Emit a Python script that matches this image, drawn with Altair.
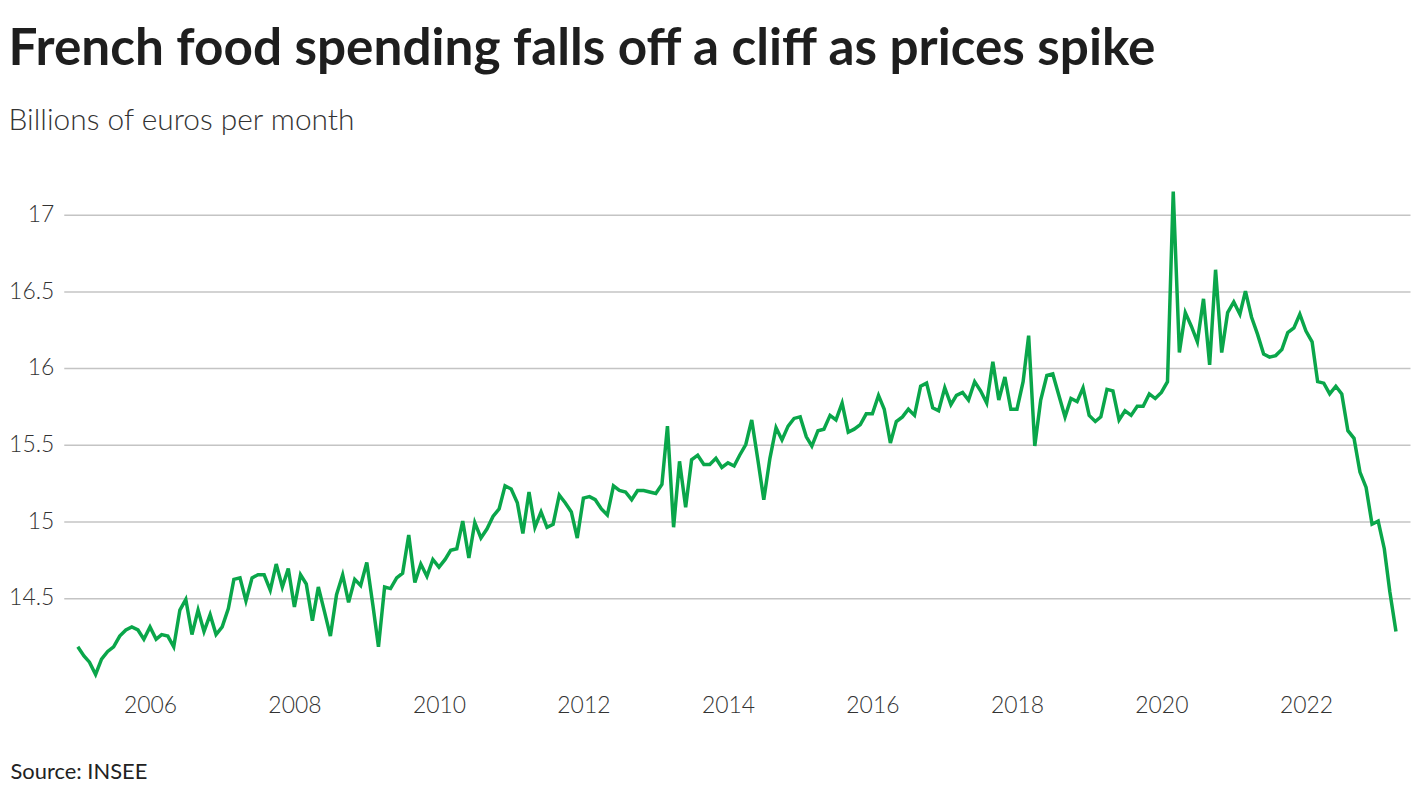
import altair as alt
import pandas as pd

# Monthly French household food consumption, billions of euros (Jan 2005 - Apr 2023)
y2005 = [14.18, 14.12, 14.08, 14.00, 14.10, 14.15, 14.18, 14.25, 14.29, 14.31, 14.29, 14.23]
y2006 = [14.31, 14.23, 14.26, 14.25, 14.18, 14.42, 14.49, 14.26, 14.42, 14.28, 14.39, 14.26]
y2007 = [14.31, 14.43, 14.62, 14.63, 14.48, 14.63, 14.65, 14.65, 14.55, 14.72, 14.57, 14.69]
y2008 = [14.44, 14.65, 14.59, 14.35, 14.57, 14.41, 14.25, 14.52, 14.65, 14.47, 14.62, 14.58]
y2009 = [14.73, 14.45, 14.18, 14.57, 14.56, 14.63, 14.66, 14.91, 14.60, 14.72, 14.64, 14.75]
y2010 = [14.70, 14.75, 14.81, 14.82, 15.00, 14.76, 14.99, 14.89, 14.95, 15.03, 15.08, 15.23]
y2011 = [15.21, 15.12, 14.92, 15.19, 14.96, 15.06, 14.96, 14.98, 15.17, 15.12, 15.06, 14.89]
y2012 = [15.15, 15.16, 15.14, 15.08, 15.04, 15.23, 15.20, 15.19, 15.14, 15.20, 15.20, 15.19]
y2013 = [15.18, 15.24, 15.62, 14.96, 15.39, 15.09, 15.40, 15.43, 15.37, 15.37, 15.41, 15.35]
y2014 = [15.38, 15.36, 15.43, 15.50, 15.66, 15.40, 15.14, 15.41, 15.61, 15.53, 15.62, 15.67]
y2015 = [15.68, 15.55, 15.49, 15.59, 15.60, 15.69, 15.66, 15.77, 15.58, 15.60, 15.63, 15.70]
y2016 = [15.70, 15.82, 15.73, 15.51, 15.65, 15.68, 15.73, 15.69, 15.88, 15.90, 15.74, 15.72]
y2017 = [15.87, 15.76, 15.82, 15.84, 15.79, 15.91, 15.85, 15.77, 16.04, 15.79, 15.94, 15.73]
y2018 = [15.73, 15.91, 16.21, 15.49, 15.79, 15.95, 15.96, 15.82, 15.68, 15.80, 15.78, 15.87]
y2019 = [15.69, 15.65, 15.68, 15.86, 15.85, 15.66, 15.72, 15.69, 15.75, 15.75, 15.83, 15.80]
y2020 = [15.84, 15.91, 17.15, 16.10, 16.36, 16.27, 16.17, 16.45, 16.02, 16.64, 16.10, 16.36]
y2021 = [16.43, 16.35, 16.50, 16.33, 16.22, 16.09, 16.07, 16.08, 16.12, 16.23, 16.26, 16.35]
y2022 = [16.24, 16.17, 15.91, 15.90, 15.83, 15.88, 15.83, 15.59, 15.54, 15.32, 15.22, 14.98]
y2023 = [15.00, 14.82, 14.54, 14.28]

values = (y2005 + y2006 + y2007 + y2008 + y2009 + y2010 + y2011 + y2012 + y2013
          + y2014 + y2015 + y2016 + y2017 + y2018 + y2019 + y2020 + y2021 + y2022 + y2023)
months = pd.date_range("2005-01-01", periods=len(values), freq="MS")

y_ticks = [14.5, 15, 15.5, 16, 16.5, 17]
x_tick_years = [2006, 2008, 2010, 2012, 2014, 2016, 2018, 2020, 2022]

df = pd.DataFrame({"date": months, "value": values})

FONT = "Lato"

line = alt.Chart(df).mark_line(color="#0aa64a", strokeWidth=3.5).encode(
    x=alt.X(
        "date:T",
        scale=alt.Scale(domain=[alt.DateTime(year=2004, month=10, date=22),
                                alt.DateTime(year=2023, month=6, date=11)]),
        axis=alt.Axis(
            values=[alt.DateTime(year=y, month=1, date=1) for y in x_tick_years],
            format="%Y",
            grid=False, domain=False, ticks=False,
            labelFontSize=23, labelFont=FONT, labelFontWeight=300, labelColor="#333333",
            labelPadding=5,
            title="Source: INSEE",
            titleFont=FONT, titleFontSize=22, titleFontWeight=400, titleColor="#222222",
            titleAnchor="start", titleAlign="left", titleBaseline="alphabetic",
            titleX=-54, titleY=89,
        ),
    ),
    y=alt.Y(
        "value:Q",
        scale=alt.Scale(domain=[13.9, 17.2], nice=False, zero=False),
        axis=alt.Axis(
            values=y_ticks, format=".1~f",
            grid=True, gridColor="#c4c4c4", gridWidth=1.5,
            domain=False, ticks=False,
            labelFontSize=23, labelFont=FONT, labelFontWeight=300, labelColor="#333333",
            labelPadding=10,
            title=None,
        ),
    ),
).properties(
    width=1352,
    height=508,
    padding={"left": 0, "top": 14, "right": 2, "bottom": 0},
    title=alt.TitleParams(
        text="French food spending falls off a cliff as prices spike",
        subtitle="Billions of euros per month",
        anchor="start", frame="bounds",
        font=FONT, fontSize=51.5, fontWeight="bold", color="#1e1e1e",
        subtitleFont=FONT, subtitleFontSize=30, subtitleFontWeight=300, subtitleColor="#333333",
        subtitlePadding=31,
        offset=48,
    ),
).configure(background="white").configure_view(stroke=None, strokeWidth=0)

chart = line
chart.save("out.html", embed_options={"renderer": "svg", "actions": False})
